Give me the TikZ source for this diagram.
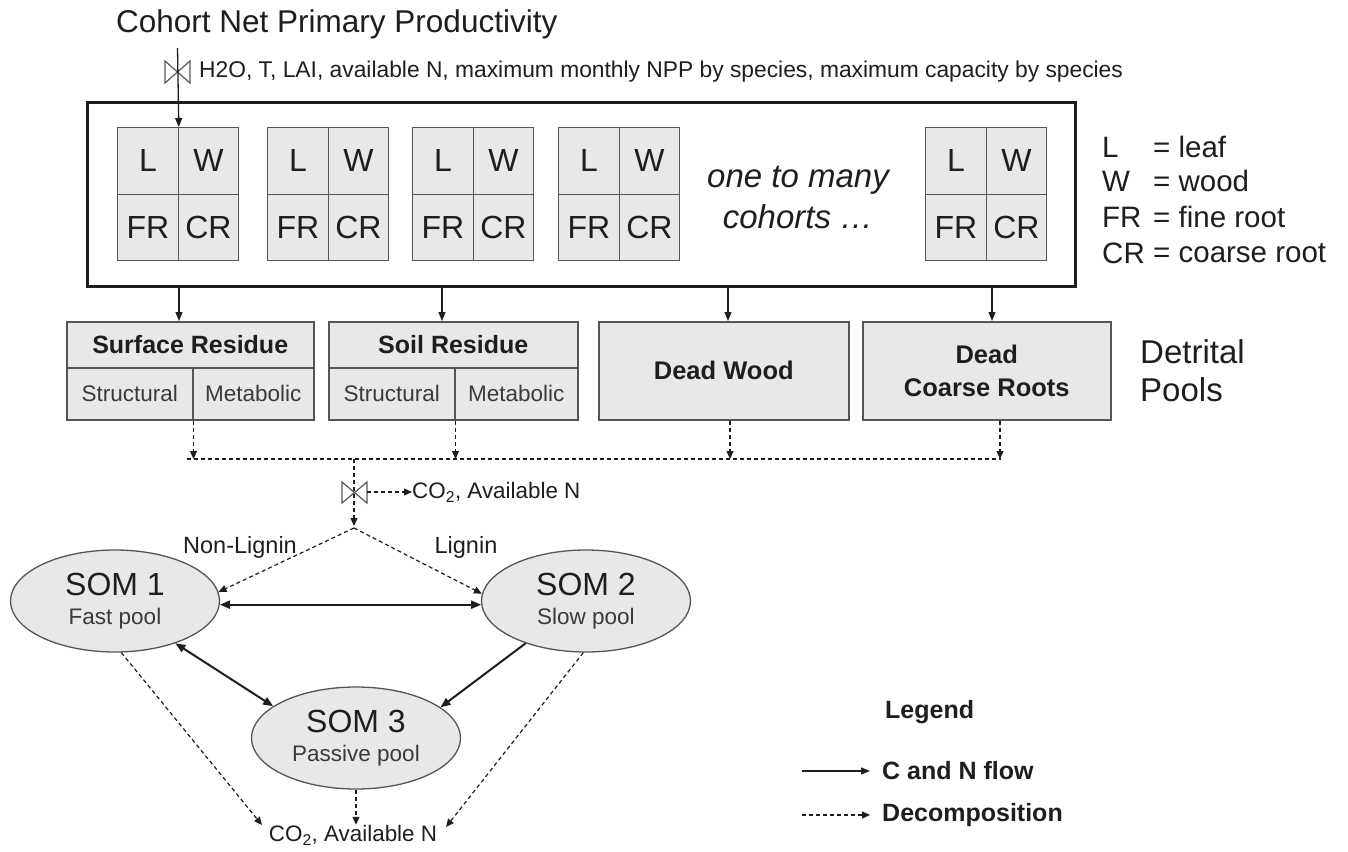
\documentclass[tikz,border=0pt]{standalone}
\usepackage{fontspec}
\setmainfont{Liberation Sans}
\usetikzlibrary{arrows.meta,shapes.geometric}
\definecolor{boxfill}{HTML}{E8E8E8}
\definecolor{boxline}{HTML}{555555}
\definecolor{ink}{HTML}{1E1E1E}
\definecolor{soft}{HTML}{3A3A3A}
\newcommand\fs[1]{\fontsize{#1}{#1}\selectfont}
\newcommand\cohortblk[3]{%
  \node[cell,anchor=north west] (#1L) at (#2,#3) {L};
  \node[cell,anchor=north west] (#1W) at ({#2+60.5},#3) {W};
  \node[cell,anchor=north west] (#1F) at (#2,{#3+66.5}) {FR};
  \node[cell,anchor=north west] (#1C) at ({#2+60.5},{#3+66.5}) {CR};
}
\begin{document}
\begin{tikzpicture}[x=1pt,y=-1pt,
  every node/.style={inner sep=0pt, text=ink},
  cell/.style={draw=boxline, fill=boxfill, line width=1.3pt, minimum width=60.5pt, minimum height=66.5pt, font=\fs{32}},
  pool/.style={draw=boxline, fill=boxfill, line width=1.5pt, anchor=north west},
  som/.style={ellipse, draw=boxline, fill=boxfill, line width=1.3pt, minimum width=209pt, minimum height=102pt, align=center},
  flow/.style={draw=ink, line width=1.3pt, -{Triangle[length=9pt,width=7pt]}},
  bflow/.style={draw=ink, line width=2pt, {Triangle[length=10pt,width=8pt]}-{Triangle[length=10pt,width=8pt]}},
  sflow/.style={draw=ink, line width=2pt, -{Triangle[length=10pt,width=8pt]}},
  decomp/.style={draw=ink, line width=1.2pt, dash pattern=on 4pt off 3pt, -{Triangle[length=8pt,width=7pt]}},
  dline/.style={draw=ink, line width=1.2pt, dash pattern=on 4pt off 3pt},
  valve/.style={draw=gray!70!black, line width=1.2pt}
]
\useasboundingbox (0,0) rectangle (1348,851);
\fill[white] (0,0) rectangle (1348,851);

% title and inputs
\node[anchor=west, font=\fs{31.5}] (title) at (116,24) {Cohort Net Primary Productivity};
\node[anchor=west, font=\fs{22.8}] (inputs) at (199,72) {H2O, T, LAI, available N, maximum monthly NPP by species, maximum capacity by species};

% big cohort box
\node[draw=ink, line width=2.6pt, minimum width=988pt, minimum height=184pt, anchor=north west] (cbox) at (86,101) {};

\cohortblk{a}{117}{127}
\cohortblk{b}{267}{127}
\cohortblk{c}{412}{127}
\cohortblk{d}{558}{127}
\cohortblk{e}{925}{127}

\node[font=\fs{33}\itshape, align=center] (many) at (798,197) {one to many\\[8pt]cohorts \dots};

% valve at top
\coordinate (vtop) at (177.5,48);
\draw[valve] (165,61) -- (190,83) -- (190,61) -- (165,83) -- cycle;
\draw[flow] (vtop) -- (aL.north east);

% abbreviations
\begin{scope}[every node/.style={inner sep=0pt, text=ink, anchor=west, font=\fs{29.5}}]
\node (kL) at (1102,147) {L};
\node (kW) at (1102,181) {W};
\node (kF) at (1102,217) {FR};
\node (kC) at (1102,253) {CR};
\node (vL) at (1153,147) {= leaf};
\node (vW) at (1153,181) {= wood};
\node (vF) at (1153,217) {= fine root};
\node (vC) at (1153,253) {= coarse root};
\end{scope}

% detrital pools
\node[pool, minimum width=247pt, minimum height=46pt, font=\fs{25}\bfseries] (surf) at (66,321) {Surface Residue};
\node[pool, minimum width=126pt, minimum height=52pt, font=\fs{22.5}, text=soft] (surfS) at (66,367) {Structural};
\node[pool, minimum width=121pt, minimum height=52pt, font=\fs{22.5}, text=soft] (surfM) at (192,367) {Metabolic};
\node[pool, minimum width=249pt, minimum height=46pt, font=\fs{25}\bfseries] (soil) at (328,321) {Soil Residue};
\node[pool, minimum width=126pt, minimum height=52pt, font=\fs{22.5}, text=soft] (soilS) at (328,367) {Structural};
\node[pool, minimum width=123pt, minimum height=52pt, font=\fs{22.5}, text=soft] (soilM) at (454,367) {Metabolic};
\node[pool, minimum width=250pt, minimum height=98pt, font=\fs{25.5}\bfseries] (dwood) at (598,321) {Dead Wood};
\node[pool, minimum width=248pt, minimum height=98pt, font=\fs{25.5}\bfseries, align=center] (droot) at (862,321) {Dead\\[8pt]Coarse Roots};
\node[anchor=west, font=\fs{33}, align=left] (detr) at (1140,371) {Detrital\\[5pt]Pools};

% cohort box to pools
\draw[flow] (cbox.south -| 179,0) -- (surf.north -| 179,0);
\draw[flow] (cbox.south -| 442,0) -- (soil.north -| 442,0);
\draw[flow] (cbox.south -| 728,0) -- (dwood.north -| 728,0);
\draw[flow] (cbox.south -| 992,0) -- (droot.north -| 992,0);

% pools to collector
\coordinate (colL) at (187,459);
\coordinate (colR) at (1001,459);
\coordinate (colM) at (354,459);
\draw[dline] (colL) -- (colR);
\draw[decomp] (surfS.south east) -- (surfS.south east |- colL);
\draw[decomp] (soilS.south east) -- (soilS.south east |- colL);
\draw[decomp] (dwood.south -| 730,0) -- (730,459);
\draw[decomp] (droot.south -| 1000,0) -- (1000,459);

% valve 2
\coordinate (split) at (354,528);
\draw[decomp] (colM) -- (354,526);
\draw[valve, fill=white] (342,482) -- (367,503) -- (367,482) -- (342,503) -- cycle;
\node[anchor=west, font=\fs{22.4}] (co2a) at (412,492) {CO\textsubscript{2}, Available N};
\draw[decomp] (367,492) -- (co2a.west);

% SOM pools
\node[som] (som1) at (115,601) {\fs{32}SOM 1\\[11pt]\fs{22.5}\color{soft}Fast pool};
\node[som] (som2) at (586,601) {\fs{32}SOM 2\\[11pt]\fs{22.5}\color{soft}Slow pool};
\node[som] (som3) at (356,738) {\fs{32}SOM 3\\[11pt]\fs{22.5}\color{soft}Passive pool};

\draw[decomp] (split) -- (som1.5);
\draw[decomp] (split) -- (som2.176);
\node[font=\fs{23.5}] (nonlig) at (240,547) {Non-Lignin};
\node[font=\fs{23.5}] (lig) at (466,547) {Lignin};

\draw[bflow] (som1.-2) -- (som2.182);
\draw[bflow] (som1.-35) -- (som3.159);
\draw[sflow] (som2.215) -- (som3.20);

% outputs
\node[font=\fs{22.4}] (co2b) at (353,835) {CO\textsubscript{2}, Available N};
\coordinate (outL) at (262,825);
\coordinate (outR) at (446,827);
\draw[decomp] (som1.-83) -- (outL);
\draw[decomp] (som3.south) -- (som3.south |- co2b.north);
\draw[decomp] (som2.-93) -- (outR);

% legend
\node[anchor=west, font=\fs{25}\bfseries] (leg) at (885,712) {Legend};
\coordinate (l1a) at (802,771);
\coordinate (l1b) at (870,771);
\coordinate (l2a) at (802,815);
\coordinate (l2b) at (870,815);
\draw[flow] (l1a) -- (l1b);
\draw[decomp] (l2a) -- (l2b);
\node[anchor=west, font=\fs{25}\bfseries] (legC) at (882,771) {C and N flow};
\node[anchor=west, font=\fs{25}\bfseries] (legD) at (882,815) {Decomposition};
\end{tikzpicture}
\end{document}
